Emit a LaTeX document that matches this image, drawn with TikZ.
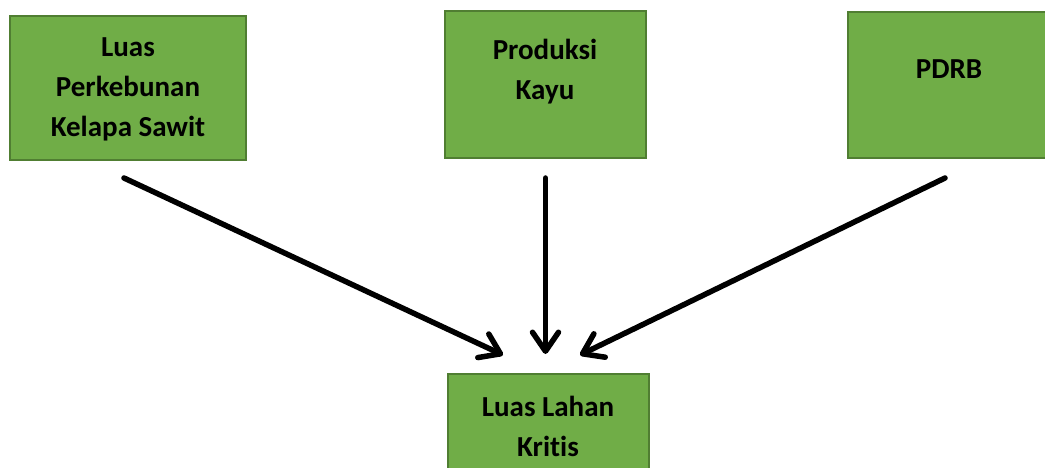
\documentclass[tikz,border=0pt]{standalone}
\usepackage{fontspec}
\setmainfont{Carlito}[Ligatures=NoCommon]
\usetikzlibrary{arrows.meta}
\definecolor{boxfill}{HTML}{70AD47}
\definecolor{boxline}{HTML}{507E32}
\tikzset{
  greenbox/.style={draw=boxline, fill=boxfill, line width=2pt, rectangle, inner sep=0pt},
  boxtext/.style={align=center, inner sep=0pt, anchor=base,
    font=\fontsize{29}{40}\selectfont\bfseries},
  flow/.style={line width=5.5pt, line cap=round,
    -{Straight Barb[length=19pt, width=26pt, line cap=round, line join=round]}}
}
\begin{document}
\begin{tikzpicture}[x=1pt, y=-1pt]
  \useasboundingbox (0,0) rectangle (1045,468);
  \clip (0,0) rectangle (1045,468);

  % factor boxes
  \node[greenbox, minimum width=236pt, minimum height=144pt] (luas) at (128,88) {};
  \node[greenbox, minimum width=201pt, minimum height=147pt] (kayu) at (545.5,84.5) {};
  \node[greenbox, minimum width=220pt, minimum height=146pt] (pdrb) at (958,85) {};
  % outcome box
  \node[greenbox, minimum width=201pt, minimum height=130pt] (kritis) at (548.5,439) {};

  % labels (base anchor sits on the last line)
  \node[boxtext] (tluas) at (128,137) {Luas\\Perkebunan\\Kelapa Sawit};
  \node[boxtext] (tkayu) at (545,100) {Produksi\\Kayu};
  \node[boxtext] (tpdrb) at (949,79) {PDRB};
  \node[boxtext] (tkritis) at (548,456) {Luas Lahan\\Kritis};

  % connector ends
  \coordinate (s1) at (124,178);
  \coordinate (s2) at (545.5,178);
  \coordinate (s3) at (945,178);
  \coordinate (e1) at (503,355);
  \coordinate (e2) at (545.5,354);
  \coordinate (e3) at (580,355);

  \draw[flow] (s1) -- (e1);
  \draw[flow] (s2) -- (e2);
  \draw[flow] (s3) -- (e3);
\end{tikzpicture}
\end{document}
